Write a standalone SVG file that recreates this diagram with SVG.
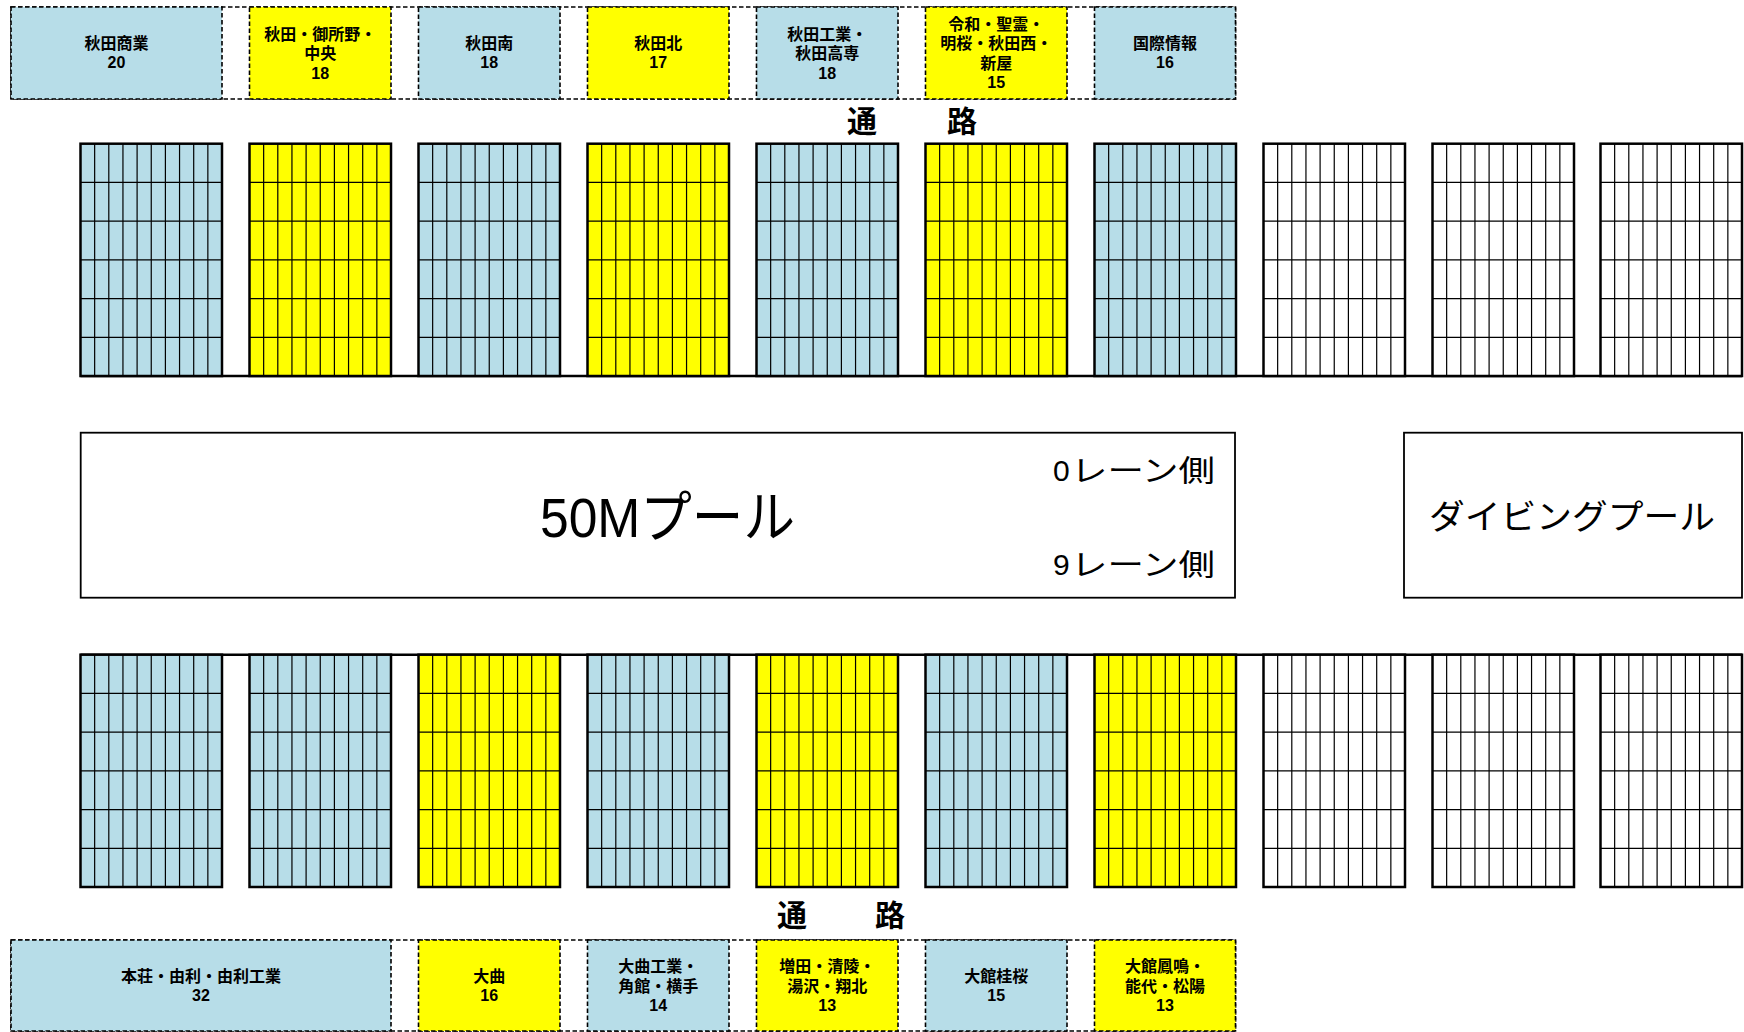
<svg xmlns="http://www.w3.org/2000/svg" xmlns:xlink="http://www.w3.org/1999/xlink" width="1744" height="1032" viewBox="0 0 1744 1032">
<style>
.blue{fill:#B7DDE8}
.yellow{fill:#FFFF00}
.white{fill:#FFFFFF}
.lbl{stroke:#000;stroke-width:1.6;stroke-dasharray:4.5 2.5}
.frame{fill:none;stroke:#000;stroke-width:1.6;stroke-dasharray:4.5 2.5}
.gridin{fill:none;stroke:#000;stroke-width:1.2}
.gridout{fill:none;stroke:#000;stroke-width:2.5}
.pool{fill:#fff;stroke:#000;stroke-width:1.8}
.t{font-family:"Liberation Sans","Noto Sans CJK JP","Noto Sans CJK SC",sans-serif;font-weight:bold;font-size:16px;text-anchor:middle;fill:#000}
.aisle{font-family:"Noto Sans CJK JP","Noto Sans CJK SC",sans-serif;font-weight:bold;font-size:30px;text-anchor:middle;fill:#000}
.big{font-family:"Liberation Sans","Noto Sans CJK JP",sans-serif;fill:#000}
</style>
<defs>
<g id="grid">
<path class="gridin" d="M14.15 0V232.3M28.3 0V232.3M42.45 0V232.3M56.6 0V232.3M70.75 0V232.3M84.9 0V232.3M99.05 0V232.3M113.2 0V232.3M127.35 0V232.3M0 38.72H141.5M0 77.43H141.5M0 116.15H141.5M0 154.87H141.5M0 193.58H141.5"/>
<rect class="gridout" x="0" y="0" width="141.5" height="232.3"/>
</g>
</defs>
<rect width="1744" height="1032" fill="#fff"/>

<!-- top label boxes -->
<g id="top-labels">
<rect class="frame" x="11" y="7" width="1224.5" height="92"/>
<g id="lbl-akitashogyo"><rect class="blue lbl" x="11" y="7" width="211" height="92"/><text class="t" x="116.5" y="48.75">秋田商業<tspan x="116.5" dy="19.5">20</tspan></text></g>
<g id="lbl-goshono"><rect class="yellow lbl" x="249.5" y="7" width="141.5" height="92"/><text class="t" x="320.25" y="39.5">秋田・御所野・<tspan x="320.25" dy="19.5">中央</tspan><tspan x="320.25" dy="19.5">18</tspan></text></g>
<g id="lbl-akitaminami"><rect class="blue lbl" x="418.5" y="7" width="141.5" height="92"/><text class="t" x="489.25" y="48.75">秋田南<tspan x="489.25" dy="19.5">18</tspan></text></g>
<g id="lbl-akitakita"><rect class="yellow lbl" x="587.5" y="7" width="141.5" height="92"/><text class="t" x="658.25" y="48.75">秋田北<tspan x="658.25" dy="19.5">17</tspan></text></g>
<g id="lbl-akitakogyo"><rect class="blue lbl" x="756.5" y="7" width="141.5" height="92"/><text class="t" x="827.25" y="39.5">秋田工業・<tspan x="827.25" dy="19.5">秋田高専</tspan><tspan x="827.25" dy="19.5">18</tspan></text></g>
<g id="lbl-reiwa"><rect class="yellow lbl" x="925.5" y="7" width="141.5" height="92"/><text class="t" x="996.25" y="29.75">令和・聖霊・<tspan x="996.25" dy="19.5">明桜・秋田西・</tspan><tspan x="996.25" dy="19.5">新屋</tspan><tspan x="996.25" dy="19.5">15</tspan></text></g>
<g id="lbl-kokusai"><rect class="blue lbl" x="1094.5" y="7" width="141" height="92"/><text class="t" x="1165" y="48.75">国際情報<tspan x="1165" dy="19.5">16</tspan></text></g>
</g>

<text class="aisle" x="862" y="132">通</text>
<text class="aisle" x="962" y="132">路</text>

<!-- top seat blocks -->
<g id="top-seats">
<line x1="80.5" y1="376" x2="1742" y2="376" stroke="#000" stroke-width="2.5"/>
<g id="top-block-1" transform="translate(80.5,143.7)"><rect class="blue" width="141.5" height="232.3"/><use xlink:href="#grid"/></g>
<g id="top-block-2" transform="translate(249.5,143.7)"><rect class="yellow" width="141.5" height="232.3"/><use xlink:href="#grid"/></g>
<g id="top-block-3" transform="translate(418.5,143.7)"><rect class="blue" width="141.5" height="232.3"/><use xlink:href="#grid"/></g>
<g id="top-block-4" transform="translate(587.5,143.7)"><rect class="yellow" width="141.5" height="232.3"/><use xlink:href="#grid"/></g>
<g id="top-block-5" transform="translate(756.5,143.7)"><rect class="blue" width="141.5" height="232.3"/><use xlink:href="#grid"/></g>
<g id="top-block-6" transform="translate(925.5,143.7)"><rect class="yellow" width="141.5" height="232.3"/><use xlink:href="#grid"/></g>
<g id="top-block-7" transform="translate(1094.5,143.7)"><rect class="blue" width="141.5" height="232.3"/><use xlink:href="#grid"/></g>
<g id="top-block-8" transform="translate(1263.5,143.7)"><rect class="white" width="141.5" height="232.3"/><use xlink:href="#grid"/></g>
<g id="top-block-9" transform="translate(1432.5,143.7)"><rect class="white" width="141.5" height="232.3"/><use xlink:href="#grid"/></g>
<g id="top-block-10" transform="translate(1600.5,143.7)"><rect class="white" width="141.5" height="232.3"/><use xlink:href="#grid"/></g>
</g>

<!-- pools -->
<g id="pool-50m">
<rect class="pool" x="80.7" y="432.7" width="1154.3" height="165"/>
<text class="big" x="540" y="537" font-size="56" textLength="255" lengthAdjust="spacingAndGlyphs">50Mプール</text>
<text class="big" x="1053" y="481" font-size="30">0<tspan x="1071" textLength="144" lengthAdjust="spacingAndGlyphs">レーン側</tspan></text>
<text class="big" x="1053" y="575" font-size="30">9<tspan x="1071" textLength="144" lengthAdjust="spacingAndGlyphs">レーン側</tspan></text>
</g>
<g id="pool-diving">
<rect class="pool" x="1404" y="432.7" width="338" height="165"/>
<text class="big" x="1429" y="529" font-size="34" textLength="286" lengthAdjust="spacingAndGlyphs">ダイビングプール</text>
</g>

<!-- bottom seat blocks -->
<g id="bottom-seats">
<line x1="80.5" y1="654.7" x2="1742" y2="654.7" stroke="#000" stroke-width="2.5"/>
<g id="bottom-block-1" transform="translate(80.5,654.7)"><rect class="blue" width="141.5" height="232.3"/><use xlink:href="#grid"/></g>
<g id="bottom-block-2" transform="translate(249.5,654.7)"><rect class="blue" width="141.5" height="232.3"/><use xlink:href="#grid"/></g>
<g id="bottom-block-3" transform="translate(418.5,654.7)"><rect class="yellow" width="141.5" height="232.3"/><use xlink:href="#grid"/></g>
<g id="bottom-block-4" transform="translate(587.5,654.7)"><rect class="blue" width="141.5" height="232.3"/><use xlink:href="#grid"/></g>
<g id="bottom-block-5" transform="translate(756.5,654.7)"><rect class="yellow" width="141.5" height="232.3"/><use xlink:href="#grid"/></g>
<g id="bottom-block-6" transform="translate(925.5,654.7)"><rect class="blue" width="141.5" height="232.3"/><use xlink:href="#grid"/></g>
<g id="bottom-block-7" transform="translate(1094.5,654.7)"><rect class="yellow" width="141.5" height="232.3"/><use xlink:href="#grid"/></g>
<g id="bottom-block-8" transform="translate(1263.5,654.7)"><rect class="white" width="141.5" height="232.3"/><use xlink:href="#grid"/></g>
<g id="bottom-block-9" transform="translate(1432.5,654.7)"><rect class="white" width="141.5" height="232.3"/><use xlink:href="#grid"/></g>
<g id="bottom-block-10" transform="translate(1600.5,654.7)"><rect class="white" width="141.5" height="232.3"/><use xlink:href="#grid"/></g>
</g>

<text class="aisle" x="792" y="926">通</text>
<text class="aisle" x="890" y="926">路</text>

<!-- bottom label boxes -->
<g id="bottom-labels">
<rect class="frame" x="11" y="940" width="1224.5" height="91"/>
<g id="lbl-honjo"><rect class="blue lbl" x="11" y="940" width="380" height="91"/><text class="t" x="201" y="981.5">本荘・由利・由利工業<tspan x="201" dy="19.5">32</tspan></text></g>
<g id="lbl-omagari"><rect class="yellow lbl" x="418.5" y="940" width="141.5" height="91"/><text class="t" x="489.25" y="981.5">大曲<tspan x="489.25" dy="19.5">16</tspan></text></g>
<g id="lbl-omagarikogyo"><rect class="blue lbl" x="587.5" y="940" width="141.5" height="91"/><text class="t" x="658.25" y="972">大曲工業・<tspan x="658.25" dy="19.5">角館・横手</tspan><tspan x="658.25" dy="19.5">14</tspan></text></g>
<g id="lbl-masuda"><rect class="yellow lbl" x="756.5" y="940" width="141.5" height="91"/><text class="t" x="827.25" y="972">増田・清陵・<tspan x="827.25" dy="19.5">湯沢・翔北</tspan><tspan x="827.25" dy="19.5">13</tspan></text></g>
<g id="lbl-odatekeio"><rect class="blue lbl" x="925.5" y="940" width="141.5" height="91"/><text class="t" x="996.25" y="981.5">大館桂桜<tspan x="996.25" dy="19.5">15</tspan></text></g>
<g id="lbl-odatehomei"><rect class="yellow lbl" x="1094.5" y="940" width="141" height="91"/><text class="t" x="1165" y="972">大館鳳鳴・<tspan x="1165" dy="19.5">能代・松陽</tspan><tspan x="1165" dy="19.5">13</tspan></text></g>
</g>
</svg>
